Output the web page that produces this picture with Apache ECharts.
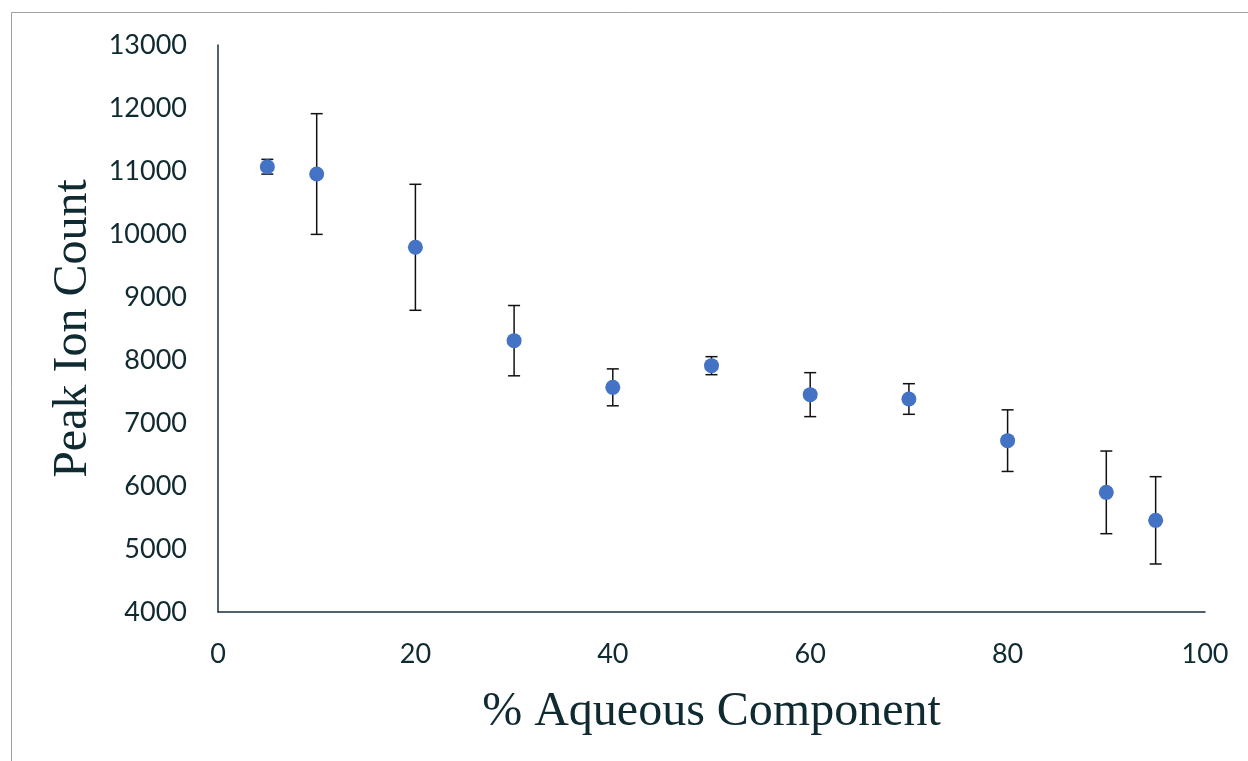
<!DOCTYPE html>
<html>
<head>
<meta charset="utf-8">
<script src="https://cdn.jsdelivr.net/npm/echarts@6/dist/echarts.min.js"></script>
<style>
  html, body { margin: 0; padding: 0; background: #fff; }
  #chart { width: 1248px; height: 761px; }
</style>
</head>
<body>
<div id="chart"></div>
<script>
// Percent of aqueous component in the mobile phase
const aqueousPct = [5, 10, 20, 30, 40, 50, 60, 70, 80, 90, 95];
// Mean peak ion count at each composition
const peakIonCount = [11068, 10952, 9789, 8307, 7566, 7910, 7450, 7381, 6720, 5899, 5455];
// Standard deviation (symmetric error bars)
const ionCountError = [117, 958, 1000, 558, 293, 143, 349, 243, 489, 656, 693];

const xTicks = { min: 0, max: 100, interval: 20 };
const yTicks = { min: 4000, max: 13000, interval: 1000 };

const points = aqueousPct.map((x, i) => [x, peakIonCount[i]]);
const bars = aqueousPct.map((x, i) => [x, peakIonCount[i] - ionCountError[i], peakIonCount[i] + ionCountError[i]]);

const axisColor = '#17303a';
const textColor = '#0f2a30';

const chart = echarts.init(document.getElementById('chart'));
chart.setOption({
  animation: false,
  backgroundColor: '#fff',
  graphic: [{
    type: 'rect',
    silent: true,
    z: -1,
    shape: { x: 11.5, y: 12.5, width: 1300, height: 800 },
    style: { fill: 'none', stroke: '#a0a0a0', lineWidth: 1 }
  }],
  grid: { left: 218, right: 43, top: 45, bottom: 149 },
  xAxis: {
    type: 'value',
    min: xTicks.min, max: xTicks.max, interval: xTicks.interval,
    name: '% Aqueous Component',
    nameLocation: 'middle',
    nameGap: 76,
    nameTextStyle: { fontFamily: 'Liberation Serif', fontSize: 48, color: textColor },
    axisLine: { show: true, lineStyle: { color: axisColor, width: 1.5 } },
    axisTick: { show: false },
    splitLine: { show: false },
    axisLabel: { fontFamily: 'Lato', fontSize: 27, color: textColor, margin: 29, formatter: v => String(v) }
  },
  yAxis: {
    type: 'value',
    min: yTicks.min, max: yTicks.max, interval: yTicks.interval,
    name: 'Peak Ion Count',
    nameLocation: 'middle',
    nameGap: 119,
    nameRotate: 90,
    nameTextStyle: { fontFamily: 'Liberation Serif', fontSize: 48, color: textColor },
    axisLine: { show: true, lineStyle: { color: axisColor, width: 1.5 } },
    axisTick: { show: false },
    splitLine: { show: false },
    axisLabel: { fontFamily: 'Lato', fontSize: 27, color: textColor, margin: 31, formatter: v => String(v) }
  },
  series: [
    {
      type: 'custom',
      name: 'error',
      data: bars,
      z: 1,
      renderItem: function (params, api) {
        const x = api.value(0);
        const lo = api.coord([x, api.value(1)]);
        const hi = api.coord([x, api.value(2)]);
        const half = 6;
        const style = { stroke: '#111', lineWidth: 1.5 };
        return {
          type: 'group',
          children: [
            { type: 'line', shape: { x1: lo[0], y1: lo[1], x2: hi[0], y2: hi[1] }, style: style },
            { type: 'line', shape: { x1: lo[0] - half, y1: lo[1], x2: lo[0] + half, y2: lo[1] }, style: style },
            { type: 'line', shape: { x1: hi[0] - half, y1: hi[1], x2: hi[0] + half, y2: hi[1] }, style: style }
          ]
        };
      }
    },
    {
      type: 'scatter',
      name: 'Peak Ion Count',
      data: points,
      symbol: 'circle',
      symbolSize: 15,
      z: 2,
      itemStyle: { color: '#4472C4', opacity: 1 }
    }
  ]
});
</script>
</body>
</html>
